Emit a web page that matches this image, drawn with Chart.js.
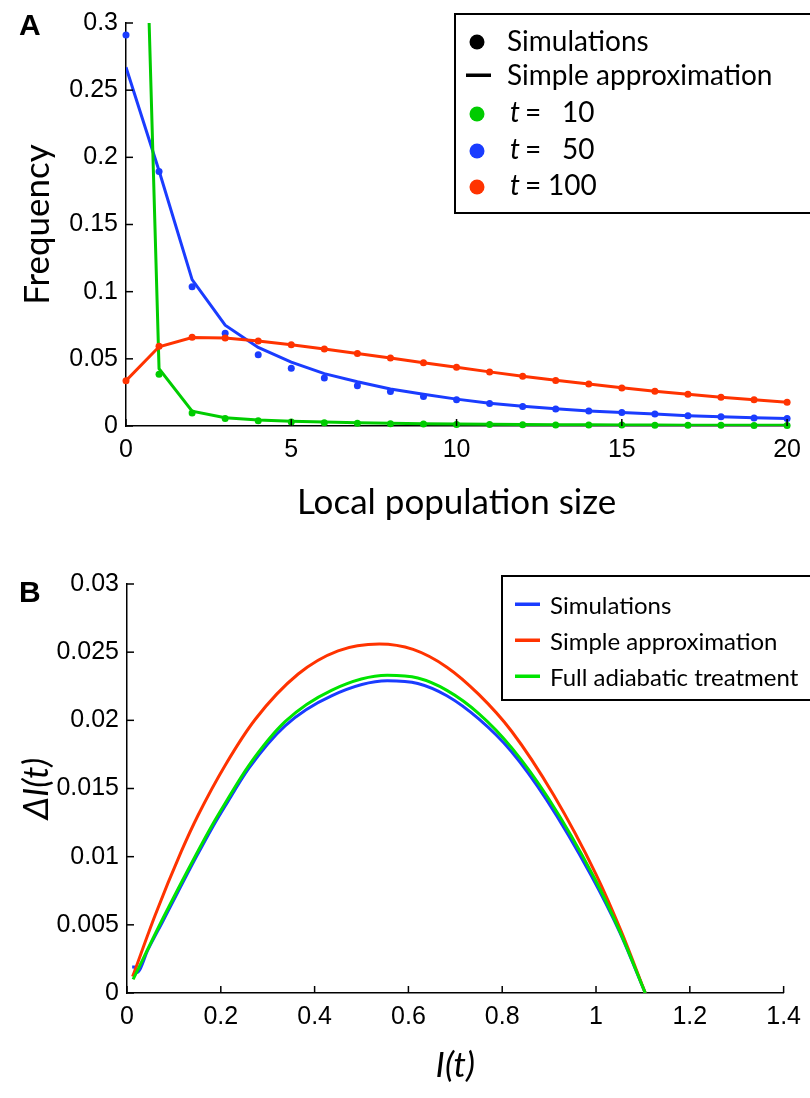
<!DOCTYPE html>
<html>

<head>
    <meta charset='utf-8'>
    <title>local population size and delta I</title>
    <script src="https://cdn.jsdelivr.net/npm/chart.js@4.4.1/dist/chart.umd.min.js"></script>
    <style>
        body { margin: 0; background: #fff; }
        #chartA { position: absolute; left: 0; top: 0; }
        #chartB { position: absolute; left: 0; top: 550px; }
    </style>
</head>

<body>
    <canvas id="chartA" width="810" height="545"></canvas>
    <canvas id="chartB" width="810" height="548"></canvas>
    <script>
        // panel A: frequency vs local population size
        const popSize = [0, 1, 2, 3, 4, 5, 6, 7, 8, 9, 10, 11, 12, 13, 14, 15, 16, 17, 18, 19, 20];
        const simT10 = [null, 0.0385, 0.0097, 0.0055, 0.0040, 0.0030, 0.0025, 0.0020, 0.0017, 0.0014, 0.0012, 0.0011, 0.0009, 0.0008, 0.0007, 0.0007, 0.0006, 0.0005, 0.0005, 0.0004, 0.0004];
        const approxT10 = [0.90, 0.0427, 0.0110, 0.0062, 0.0045, 0.0035, 0.0029, 0.0024, 0.0020, 0.0017, 0.0015, 0.0013, 0.0011, 0.0010, 0.0009, 0.0008, 0.0007, 0.0006, 0.0006, 0.0005, 0.0005];
        const simT50 = [0.291, 0.1895, 0.1037, 0.069, 0.053, 0.043, 0.0358, 0.030, 0.0256, 0.022, 0.0195, 0.0168, 0.0146, 0.0127, 0.0112, 0.0100, 0.0090, 0.0077, 0.0068, 0.0060, 0.0055];
        const approxT50 = [0.267, 0.190, 0.109, 0.075, 0.0585, 0.0476, 0.039, 0.033, 0.0276, 0.0236, 0.0200, 0.0170, 0.0147, 0.0128, 0.0112, 0.0100, 0.0089, 0.0077, 0.0068, 0.0061, 0.0055];
        const simT100 = [0.0337, 0.0593, 0.0660, 0.0656, 0.0632, 0.0605, 0.0573, 0.0539, 0.0507, 0.0470, 0.0437, 0.0402, 0.0371, 0.0339, 0.0312, 0.0283, 0.0258, 0.0236, 0.0214, 0.0195, 0.0176];
        const approxT100 = [0.0337, 0.0590, 0.0658, 0.0655, 0.0632, 0.0605, 0.0573, 0.0539, 0.0506, 0.0471, 0.0437, 0.0403, 0.0371, 0.0340, 0.0312, 0.0284, 0.0258, 0.0236, 0.0214, 0.0195, 0.0177];
        const timesA = [10, 50, 100];
        const ticksA_x = [0, 5, 10, 15, 20];

        // panel B: delta I vs I
        const simI = [0.011, 0.016, 0.021, 0.045, 0.077, 0.148, 0.183, 0.209, 0.260, 0.337, 0.436, 0.555, 0.620, 0.682, 0.750, 0.820, 0.894, 0.990, 1.050, 1.105];
        const simDI = [0.0019, 0.0019, 0.0015, 0.0032, 0.0053, 0.0100, 0.0122, 0.0137, 0.0165, 0.0196, 0.0218, 0.0229, 0.0227, 0.0218, 0.0201, 0.0177, 0.0142, 0.0086, 0.0045, 0.0];
        const approxI = [0.012, 0.060, 0.116, 0.151, 0.211, 0.274, 0.365, 0.450, 0.538, 0.610, 0.682, 0.750, 0.820, 0.910, 1.000, 1.054, 1.105];
        const approxDI = [0.0012, 0.0057, 0.0104, 0.0130, 0.0168, 0.0201, 0.0234, 0.0251, 0.0256, 0.0252, 0.0239, 0.0219, 0.0192, 0.0145, 0.0087, 0.0045, 0.0];
        const fullI = [0.013, 0.077, 0.148, 0.183, 0.209, 0.260, 0.337, 0.436, 0.555, 0.620, 0.682, 0.750, 0.820, 0.898, 0.994, 1.051, 1.105];
        const fullDI = [0.0010, 0.0055, 0.0102, 0.0124, 0.0139, 0.0167, 0.0199, 0.0222, 0.0233, 0.0231, 0.0222, 0.0205, 0.0180, 0.0143, 0.0086, 0.0045, 0.0];
        const legendB = ['Simulations', 'Simple approximation', 'Full adiabatic treatment'];

        const GREEN = '#00cc00';
        const GREEN_B = '#00e400';
        const BLUE = '#1a3cff';
        const RED = '#ff3300';
        const tickFont = { family: 'Liberation Sans', size: 25 };
        const titleFamily = 'Lato';

        function pts(xs, ys) {
            return xs.map((x, i) => ({ x: x, y: ys[i] }));
        }
        function fmt(v) {
            return String(Number(v.toFixed(6)));
        }

        // ticks pointing into the plot, as in the original figure
        const inwardTicks = {
            id: 'inwardTicks',
            afterDraw(chart) {
                const ctx = chart.ctx;
                const area = chart.chartArea;
                ctx.save();
                ctx.strokeStyle = '#000';
                ctx.lineWidth = 1.5;
                const xs = chart.scales.x, ys = chart.scales.y;
                xs.ticks.forEach(t => {
                    const p = xs.getPixelForValue(t.value);
                    ctx.beginPath();
                    ctx.moveTo(p, area.bottom);
                    ctx.lineTo(p, area.bottom - 7);
                    ctx.stroke();
                });
                ys.ticks.forEach(t => {
                    const p = ys.getPixelForValue(t.value);
                    ctx.beginPath();
                    ctx.moveTo(area.left, p);
                    ctx.lineTo(area.left + 7, p);
                    ctx.stroke();
                });
                ctx.restore();
            }
        };

        const panelLetter = {
            id: 'panelLetter',
            afterDraw(chart, args, opts) {
                const ctx = chart.ctx;
                ctx.save();
                ctx.fillStyle = '#000';
                ctx.font = 'bold 30px "Liberation Sans"';
                ctx.textBaseline = 'alphabetic';
                ctx.fillText(opts.text, opts.x, opts.y);
                ctx.restore();
            }
        };

        const legendA = {
            id: 'legendA',
            afterDraw(chart) {
                const ctx = chart.ctx;
                ctx.save();
                ctx.fillStyle = '#fff';
                ctx.fillRect(455, 14, 380, 199);
                ctx.strokeStyle = '#000';
                ctx.lineWidth = 2;
                ctx.strokeRect(455, 14, 380, 199);
                ctx.fillStyle = '#000';
                ctx.font = '28px ' + titleFamily;
                ctx.textBaseline = 'middle';
                // black dot + line
                ctx.beginPath();
                ctx.arc(477, 42, 7.5, 0, Math.PI * 2);
                ctx.fill();
                ctx.fillText('Simulations', 507, 42);
                ctx.fillRect(466, 73.5, 25, 3.5);
                ctx.fillText('Simple approximation', 507, 76);
                const rowY = [113, 150, 186];
                const cols = [GREEN, BLUE, RED];
                timesA.forEach((t, i) => {
                    ctx.fillStyle = cols[i];
                    ctx.beginPath();
                    ctx.arc(477, rowY[i] + 1, 7.5, 0, Math.PI * 2);
                    ctx.fill();
                    ctx.fillStyle = '#000';
                    ctx.font = 'italic 28px ' + titleFamily;
                    ctx.fillText('t', 510, rowY[i]);
                    ctx.font = '28px ' + titleFamily;
                    ctx.fillText('=', 525, rowY[i]);
                    ctx.fillText(String(t), t >= 100 ? 548 : 562, rowY[i]);
                });
                ctx.restore();
            }
        };

        const legendBox = {
            id: 'legendBox',
            afterDraw(chart) {
                const ctx = chart.ctx;
                ctx.save();
                ctx.fillStyle = '#fff';
                ctx.fillRect(502, 26, 330, 124);
                ctx.strokeStyle = '#000';
                ctx.lineWidth = 2;
                ctx.strokeRect(502, 26, 330, 124);
                ctx.font = '24px ' + titleFamily;
                ctx.textBaseline = 'middle';
                const cols = [BLUE, RED, GREEN_B];
                legendB.forEach((lab, i) => {
                    const y = 54 + i * 36;
                    ctx.fillStyle = cols[i];
                    ctx.fillRect(515, y - 1.5, 25, 3.5);
                    ctx.fillStyle = '#000';
                    ctx.fillText(lab, 550, y + 2);
                });
                ctx.restore();
            }
        };

        function axisOpts(min, max, step, w, h, title, italic, pad) {
            return {
                type: 'linear',
                min: min,
                max: max,
                border: { display: true, color: '#000', width: 1.5 },
                grid: { display: false, drawTicks: false },
                ticks: { stepSize: step, font: tickFont, color: '#000', padding: w ? 8 : 9, callback: fmt },
                title: {
                    display: true,
                    text: title,
                    color: '#000',
                    font: { family: titleFamily, size: 35, style: italic ? 'italic' : 'normal' },
                    padding: pad
                },
                afterFit: s => {
                    if (w) s.width = w;
                    if (h) s.height = h;
                }
            };
        }

        const commonPlugins = {
            legend: { display: false },
            tooltip: { enabled: false }
        };

        new Chart(document.getElementById('chartA').getContext('2d'), {
            type: 'line',
            data: {
                datasets: [
                    { data: pts(popSize, simT100), showLine: false, pointRadius: 3.5, pointBackgroundColor: RED, pointBorderWidth: 0, clip: false },
                    { data: pts(popSize, approxT100), borderColor: RED, borderWidth: 3, pointRadius: 0 },
                    { data: pts(popSize, simT10), showLine: false, pointRadius: 3.5, pointBackgroundColor: GREEN, pointBorderWidth: 0, clip: false },
                    { data: pts(popSize, approxT10), borderColor: GREEN, borderWidth: 3, pointRadius: 0 },
                    { data: pts(popSize, simT50), showLine: false, pointRadius: 3.5, pointBackgroundColor: BLUE, pointBorderWidth: 0, clip: false },
                    { data: pts(popSize, approxT50), borderColor: BLUE, borderWidth: 3, pointRadius: 0 }
                ]
            },
            options: {
                responsive: false,
                animation: false,
                layout: { padding: { top: 16, right: 20, left: 0, bottom: 0 } },
                scales: {
                    x: Object.assign(axisOpts(0, 20, 5, null, 119, 'Local population size', false, { top: 0, bottom: 21 }),
                        { afterBuildTicks: s => { s.ticks = ticksA_x.map(v => ({ value: v })); } }),
                    y: axisOpts(0, 0.3, 0.05, 126, null, 'Frequency', false, { top: 17, bottom: 0 })
                },
                plugins: Object.assign({ panelLetter: { text: 'A', x: 19, y: 35 } }, commonPlugins)
            },
            plugins: [inwardTicks, legendA, panelLetter]
        });

        new Chart(document.getElementById('chartB').getContext('2d'), {
            type: 'line',
            data: {
                datasets: [
                    { data: pts(fullI, fullDI), borderColor: GREEN_B, borderWidth: 3, pointRadius: 0, cubicInterpolationMode: 'monotone' },
                    { data: pts(approxI, approxDI), borderColor: RED, borderWidth: 3, pointRadius: 0, cubicInterpolationMode: 'monotone' },
                    { data: pts(simI, simDI), borderColor: BLUE, borderWidth: 3, pointRadius: 0, cubicInterpolationMode: 'monotone' }
                ]
            },
            options: {
                responsive: false,
                animation: false,
                layout: { padding: { top: 34, right: 20, left: 0, bottom: 0 } },
                scales: {
                    x: axisOpts(0, 1.4, 0.2, null, 105, 'I(t)', true, { top: 0, bottom: 11 }),
                    y: axisOpts(0, 0.03, 0.005, 127, null, 'ΔI(t)', true, { top: 16, bottom: 0 })
                },
                plugins: Object.assign({ panelLetter: { text: 'B', x: 19, y: 52 } }, commonPlugins)
            },
            plugins: [inwardTicks, legendBox, panelLetter]
        });
    </script>
</body>

</html>
